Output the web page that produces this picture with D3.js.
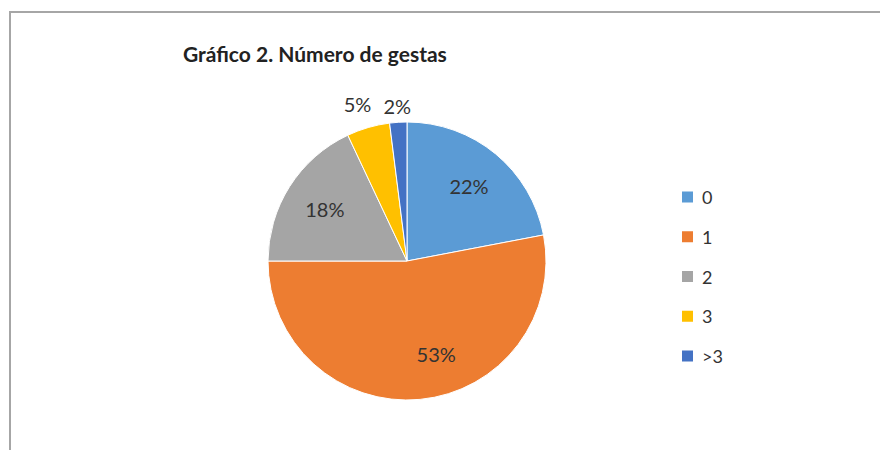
<!DOCTYPE html>
<html>
<head>
<meta charset="utf-8">
<script src="https://cdn.jsdelivr.net/npm/d3@7"></script>
<style>
  html, body { margin: 0; padding: 0; background: #fff; }
  svg { display: block; }
  text { font-family: Lato, "Open Sans", "Liberation Sans", sans-serif; }
</style>
</head>
<body>
<svg id="chart" width="880" height="450"></svg>
<script>
// Número de gestas: share of patients by number of pregnancies
const categories = ["0", "1", "2", "3", ">3"];
const percents   = [22, 53, 18, 5, 2];
const colors     = ["#5B9BD5", "#ED7D31", "#A5A5A5", "#FFC000", "#4472C4"];
const titleText  = "Gráfico 2. Número de gestas";

// small hand placement tweaks for individual data labels (px)
const labelShift = { "1": [20, -4], "3": [-6, -8] };

const svg = d3.select("#chart");

// chart frame (extends past the right and bottom edge)
svg.append("rect")
  .attr("x", 10).attr("y", 12)
  .attr("width", 900).attr("height", 460)
  .attr("fill", "#fff")
  .attr("stroke", "#a6a6a6")
  .attr("stroke-width", 2);

svg.append("text")
  .attr("x", 183).attr("y", 62)
  .attr("font-size", 21)
  .attr("font-weight", "bold")
  .attr("fill", "#222")
  .text(titleText);

const cx = 407, cy = 261, R = 139;
const data = categories.map((c, i) => ({ cat: c, value: percents[i], color: colors[i] }));

const pie = d3.pie().value(d => d.value).sort(null);
const arcs = pie(data);
const arc = d3.arc().innerRadius(0).outerRadius(R);

const g = svg.append("g").attr("transform", `translate(${cx},${cy})`);
g.selectAll("path")
  .data(arcs)
  .join("path")
  .attr("d", arc)
  .attr("fill", d => d.data.color)
  .attr("stroke", "#fff")
  .attr("stroke-width", 1);

// labels inside large slices, outside small ones
const inner = d3.arc().innerRadius(R * 0.7).outerRadius(R * 0.7);
const outer = d3.arc().innerRadius(R * 1.12).outerRadius(R * 1.12);
g.selectAll("text.lbl")
  .data(arcs)
  .join("text")
  .attr("class", "lbl")
  .attr("transform", d => {
    const big = d.data.value >= 10;
    const [x, y] = (big ? inner : outer).centroid(d);
    const [dx, dy] = labelShift[d.data.cat] || [0, 0];
    return `translate(${x + dx},${y + dy})`;
  })
  .attr("text-anchor", "middle")
  .attr("dominant-baseline", "central")
  .attr("font-size", 20)
  .attr("fill", "#333")
  .text(d => d.data.value + "%");

// legend
const legend = svg.append("g").attr("transform", "translate(682,197)");
const row = legend.selectAll("g")
  .data(data)
  .join("g")
  .attr("transform", (d, i) => `translate(0,${i * 39.75})`);
row.append("rect")
  .attr("x", 0).attr("y", -5.5)
  .attr("width", 11).attr("height", 11)
  .attr("fill", d => d.color);
row.append("text")
  .attr("x", 20).attr("y", 0)
  .attr("dominant-baseline", "central")
  .attr("font-size", 18)
  .attr("fill", "#333")
  .text(d => d.cat);
</script>
</body>
</html>
